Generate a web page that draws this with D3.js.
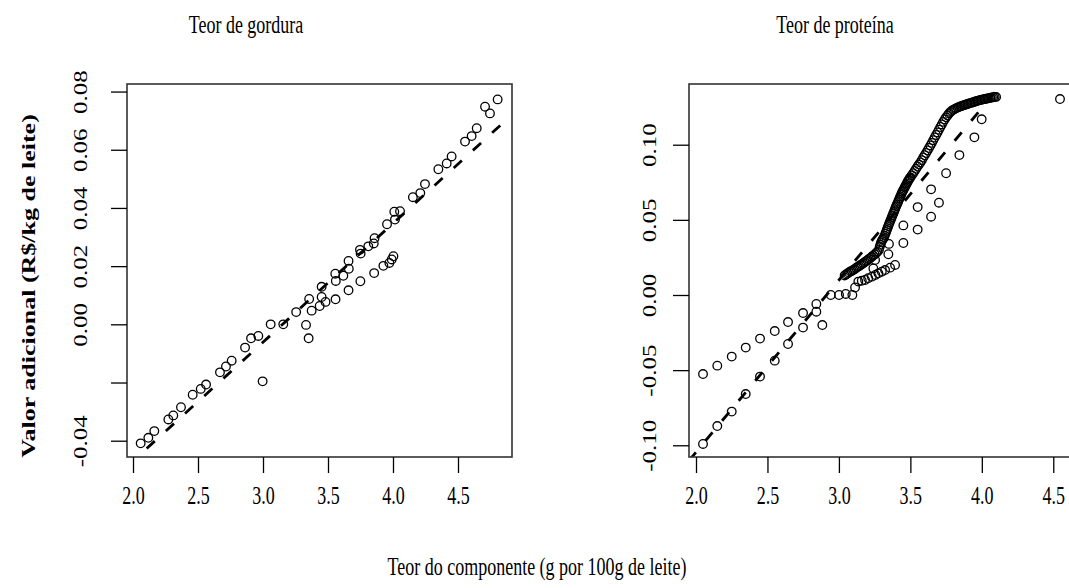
<!DOCTYPE html>
<html>
<head>
<meta charset="utf-8">
<script src="https://cdn.jsdelivr.net/npm/d3@7"></script>
<style>
  html, body { margin: 0; padding: 0; background: #fff; }
  svg { display: block; }
  text { font-family: "Liberation Serif", "Times New Roman", serif; fill: #000; }
</style>
</head>
<body>
<svg id="chart" width="1069" height="588"></svg>
<script>
// ---------------- DATA ----------------
const titles = ["Teor de gordura", "Teor de proteína"];
const yLabel = "Valor adicional (R$/kg de leite)";
const xLabel = "Teor do componente (g por 100g de leite)";

const xTicks = [2.0, 2.5, 3.0, 3.5, 4.0, 4.5];
const gorduraYTicks = [-0.04, -0.02, 0.00, 0.02, 0.04, 0.06, 0.08];
const gorduraYTickLabels = ["-0.04", "", "0.00", "0.02", "0.04", "0.06", "0.08"];
const proteinaYTicks = [-0.10, -0.05, 0.00, 0.05, 0.10];
const proteinaYTickLabels = ["-0.10", "-0.05", "0.00", "0.05", "0.10"];

// Teor de gordura: points (x = teor, y = valor adicional)
const gorduraPoints = [
  [2.059,-0.0409],[2.118,-0.0390],[2.164,-0.0367],[2.272,-0.0327],[2.310,-0.0313],
  [2.369,-0.0285],[2.459,-0.0242],[2.521,-0.0222],[2.562,-0.0207],[2.669,-0.0165],
  [2.715,-0.0145],[2.759,-0.0125],[2.862,-0.0080],[2.908,-0.0048],[2.964,-0.0040],
  [2.997,-0.0196],[3.059,0.0000],[3.156,0.0000],[3.255,0.0042],[3.331,-0.0002],
  [3.351,-0.0048],[3.355,0.0087],[3.374,0.0047],[3.436,0.0063],[3.451,0.0094],
  [3.451,0.0129],[3.481,0.0077],[3.556,0.0174],[3.560,0.0149],[3.558,0.0086],
  [3.618,0.0167],[3.658,0.0218],[3.660,0.0191],[3.658,0.0117],[3.746,0.0256],
  [3.751,0.0243],[3.749,0.0148],[3.810,0.0268],[3.852,0.0278],[3.858,0.0296],
  [3.855,0.0176],[3.926,0.0201],[3.954,0.0344],[3.972,0.0211],[3.990,0.0223],
  [4.003,0.0234],[4.015,0.0360],[4.010,0.0387],[4.054,0.0389],[4.153,0.0437],
  [4.210,0.0451],[4.246,0.0482],[4.349,0.0533],[4.413,0.0553],[4.451,0.0577],
  [4.554,0.0628],[4.605,0.0647],[4.644,0.0674],[4.708,0.0748],[4.746,0.0725],
  [4.805,0.0773]
];
const gorduraLine = [[2.105,-0.0427],[4.860,0.0698]];

// Teor de proteína: upper row of low-content points
const proteinaRowA = [
  [2.049,-0.0526],[2.149,-0.0470],[2.250,-0.0410],[2.348,-0.0350],[2.448,-0.0290],
  [2.551,-0.0240],[2.644,-0.0180],[2.749,-0.0120],[2.842,-0.0060],[2.943,0.0000],
  [3.001,0.0000],[3.048,0.0007],[3.094,0.0000]
];
// Teor de proteína: lower row following the dashed line
const proteinaRowB = [
  [2.049,-0.0991],[2.149,-0.0872],[2.250,-0.0776],[2.348,-0.0659],[2.448,-0.0543],
  [2.551,-0.0437],[2.644,-0.0326],[2.749,-0.0217],[2.842,-0.0111],[2.884,-0.0200]
];
// Teor de proteína: dense band
const proteinaBand = [
  [3.04,0.0130],[3.05,0.0137],[3.06,0.0143],[3.07,0.0150],[3.08,0.0156],[3.09,0.0160],
  [3.10,0.0166],[3.11,0.0172],[3.12,0.0180],[3.13,0.0186],[3.14,0.0192],[3.15,0.0198],
  [3.16,0.0204],[3.17,0.0211],[3.18,0.0218],[3.19,0.0225],[3.20,0.0232],[3.21,0.0240],
  [3.22,0.0247],[3.23,0.0254],[3.24,0.0262],[3.25,0.0270],[3.26,0.0279],[3.27,0.0288],
  [3.280,0.0300],[3.285,0.0320],[3.290,0.0335],[3.295,0.0350],[3.300,0.0360],[3.305,0.0368],
  [3.310,0.0375],[3.315,0.0385],[3.320,0.0395],[3.325,0.0408],[3.330,0.0420],[3.335,0.0432],
  [3.340,0.0445],[3.345,0.0458],[3.350,0.0470],[3.355,0.0482],[3.360,0.0494],[3.365,0.0506],
  [3.370,0.0518],[3.375,0.0530],[3.380,0.0543],[3.385,0.0553],[3.390,0.0565],[3.395,0.0578],
  [3.400,0.0590],[3.405,0.0600],[3.410,0.0611],[3.415,0.0622],[3.420,0.0633],[3.425,0.0645],
  [3.430,0.0656],[3.435,0.0667],[3.440,0.0678],[3.445,0.0688],[3.450,0.0697],[3.455,0.0706],
  [3.460,0.0715],[3.465,0.0724],[3.470,0.0733],[3.475,0.0742],[3.480,0.0752],[3.485,0.0760],
  [3.490,0.0768],[3.495,0.0775],[3.50,0.0783],[3.51,0.0796],[3.52,0.0810],[3.53,0.0825],
  [3.54,0.0840],[3.55,0.0855],[3.56,0.0868],[3.57,0.0882],[3.58,0.0897],[3.59,0.0915],
  [3.60,0.0930],[3.61,0.0945],[3.62,0.0962],[3.63,0.0978],[3.64,0.0995],[3.65,0.1012],
  [3.66,0.1030],[3.67,0.1048],[3.68,0.1065],[3.69,0.1082],[3.70,0.1100],[3.71,0.1118],
  [3.72,0.1135],[3.73,0.1152],[3.74,0.1168],[3.75,0.1182],[3.76,0.1195],[3.77,0.1208],
  [3.78,0.1218],[3.79,0.1226],[3.80,0.1232],[3.81,0.1237],[3.82,0.1242],[3.83,0.1247],
  [3.84,0.1251],[3.85,0.1255],[3.86,0.1258],[3.87,0.1262],[3.88,0.1265],[3.89,0.1268],
  [3.90,0.1271],[3.91,0.1274],[3.92,0.1277],[3.93,0.1280],[3.94,0.1283],[3.95,0.1286],
  [3.96,0.1289],[3.97,0.1292],[3.98,0.1295],[3.99,0.1298],[4.00,0.1300],[4.01,0.1302],
  [4.02,0.1304],[4.03,0.1306],[4.04,0.1308],[4.05,0.1310],[4.06,0.1312],[4.07,0.1314],
  [4.08,0.1316],[4.09,0.1317],[4.10,0.1318]
];
// Teor de proteína: row beneath the band
const proteinaRowC = [
  [3.113,0.0050],[3.136,0.0089],[3.160,0.0095],[3.183,0.0100],[3.205,0.0112],[3.230,0.0122],
  [3.255,0.0133],[3.276,0.0144],[3.300,0.0155],[3.323,0.0166],[3.358,0.0182],[3.393,0.0200]
];
// Teor de proteína: scattered points right of the band
const proteinaScatter = [
  [3.241,0.0177],[3.253,0.0233],[3.346,0.0271],[3.350,0.0340],[3.451,0.0346],[3.451,0.0463],
  [3.551,0.0435],[3.551,0.0585],[3.645,0.0521],[3.645,0.0703],[3.700,0.0614],[3.750,0.0810],
  [3.843,0.0931],[3.948,0.1049],[3.999,0.1169],[4.547,0.1304]
];
const proteinaLine = [[1.950,-0.1103],[4.150,0.1416]];

// ---------------- DRAW ----------------
const svg = d3.select("#chart");
const FONT = 25, SQ = 0.72;

function panel(cfg) {
  const x = d3.scaleLinear().domain(cfg.xDomain).range([cfg.left, cfg.right]);
  const y = d3.scaleLinear().domain(cfg.yDomain).range([cfg.bottom, cfg.top]);
  const g = svg.append("g");

  const clipId = "clip" + cfg.id;
  svg.append("clipPath").attr("id", clipId).append("rect")
    .attr("x", cfg.left).attr("y", cfg.top)
    .attr("width", cfg.right - cfg.left).attr("height", cfg.bottom - cfg.top);

  // dashed line
  g.append("path")
    .datum(cfg.line)
    .attr("clip-path", `url(#${clipId})`)
    .attr("d", d3.line().x(d => x(d[0])).y(d => y(d[1])))
    .attr("fill", "none").attr("stroke", "#000")
    .attr("stroke-width", 2.8).attr("stroke-dasharray", "11,15");

  // points
  g.append("g").attr("clip-path", `url(#${clipId})`)
    .selectAll("circle").data(cfg.points).join("circle")
    .attr("cx", d => x(d[0])).attr("cy", d => y(d[1])).attr("r", 4.3)
    .attr("fill", "none").attr("stroke", "#000").attr("stroke-width", 1.3);

  // box
  g.append("rect")
    .attr("x", cfg.left).attr("y", cfg.top)
    .attr("width", cfg.right - cfg.left).attr("height", cfg.bottom - cfg.top)
    .attr("fill", "none").attr("stroke", "#333").attr("stroke-width", 1.6);

  // x axis
  const ax = g.append("g").attr("transform", `translate(0,${cfg.bottom})`)
    .call(d3.axisBottom(x).tickValues(xTicks).tickSize(16).tickSizeOuter(0)
      .tickFormat(d3.format(".1f")));
  ax.select(".domain").remove();
  ax.selectAll(".tick line").attr("stroke", "#000").attr("stroke-width", 1.3);
  ax.selectAll(".tick text")
    .attr("y", 0).attr("dy", null)
    .attr("transform", `translate(0,47) scale(${SQ},1)`)
    .attr("font-size", FONT).attr("font-family", "Liberation Serif").attr("fill", "#000");

  // y axis
  const ay = g.append("g").attr("transform", `translate(${cfg.left},0)`)
    .call(d3.axisLeft(y).tickValues(cfg.yTicks).tickSize(16).tickSizeOuter(0)
      .tickFormat((d, i) => cfg.yTickLabels[i]));
  ay.select(".domain").remove();
  ay.selectAll(".tick line").attr("stroke", "#000").attr("stroke-width", 1.3);
  ay.selectAll(".tick text")
    .attr("x", 0).attr("y", 0).attr("dy", "0.35em")
    .attr("text-anchor", "middle")
    .attr("transform", `translate(${cfg.yLabelOffset},0) scale(${SQ},1) rotate(-90)`)
    .attr("font-size", FONT).attr("font-family", "Liberation Serif").attr("fill", "#000");

  // title
  g.append("text")
    .attr("transform", `translate(${cfg.titleX},33) scale(${SQ},1)`)
    .attr("text-anchor", "middle").attr("font-size", FONT)
    .text(cfg.title);
}

panel({
  id: 1, title: titles[0], titleX: 246,
  left: 127, right: 512, top: 84, bottom: 457,
  xDomain: [1.9538, 4.9154], yDomain: [-0.0456, 0.0826],
  yTicks: gorduraYTicks, yTickLabels: gorduraYTickLabels, yLabelOffset: -46,
  points: gorduraPoints, line: gorduraLine
});

panel({
  id: 2, title: titles[1], titleX: 835,
  left: 689, right: 1075, top: 84, bottom: 457,
  xDomain: [1.951, 4.652], yDomain: [-0.1078, 0.1404],
  yTicks: proteinaYTicks, yTickLabels: proteinaYTickLabels, yLabelOffset: -39,
  points: [].concat(proteinaRowA, proteinaRowB, proteinaBand, proteinaRowC, proteinaScatter),
  line: proteinaLine
});

// shared axis labels
svg.append("text")
  .attr("transform", `translate(537,575) scale(${SQ},1)`)
  .attr("text-anchor", "middle").attr("font-size", FONT)
  .text(xLabel);

svg.append("text")
  .attr("transform", `translate(28,286) scale(${SQ},1) rotate(-90)`)
  .attr("dy", "0.35em")
  .attr("text-anchor", "middle").attr("font-size", 26).attr("font-weight", "bold")
  .text(yLabel);
</script>
</body>
</html>
